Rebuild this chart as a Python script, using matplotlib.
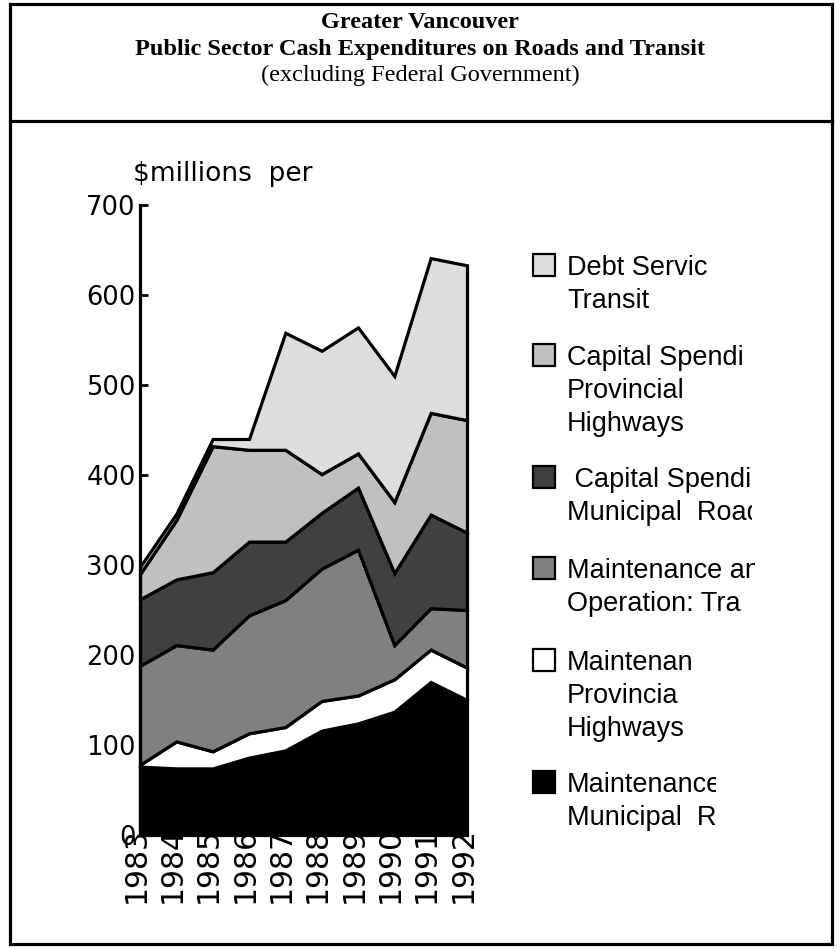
import matplotlib
matplotlib.use("Agg")
import matplotlib.pyplot as plt
from matplotlib.patches import Rectangle
from matplotlib.lines import Line2D
from matplotlib.transforms import Bbox, ScaledTranslation

# ---------------- data ----------------
years = [1983, 1984, 1985, 1986, 1987, 1988, 1989, 1990, 1991, 1992]
year_labels = ["1983", "1984", "1985", "1986", "1987", "1988", "1989", "1990", "1991", "1992"]

# stacked bottom -> top ($ millions per year)
maint_municipal_roads = [76, 74, 74, 86, 94, 116, 124, 137, 170, 150]
maint_provincial_hwys = [2, 30, 19, 27, 26, 33, 31, 36, 36, 36]
maint_oper_transit = [110, 107, 113, 131, 141, 147, 162, 38, 46, 64]
capital_municipal_roads = [74, 73, 86, 82, 65, 62, 69, 80, 104, 86]
capital_provincial_hwys = [28, 66, 140, 102, 102, 43, 38, 79, 113, 125]
debt_service_transit = [8, 7, 8, 12, 130, 137, 140, 140, 172, 172]

series = [maint_municipal_roads, maint_provincial_hwys, maint_oper_transit,
          capital_municipal_roads, capital_provincial_hwys, debt_service_transit]
colors = ["#000000", "#ffffff", "#808080", "#404040", "#c0c0c0", "#dddddd"]

# legend, top -> bottom (text as visible in the original, clipped)
legend_labels = ["Debt Servic\nTransit",
                 "Capital Spendi\nProvincial\nHighways",
                 " Capital Spendi\nMunicipal  Road",
                 "Maintenance an\nOperation: Tra",
                 "Maintenan\nProvincia\nHighways",
                 "Maintenance\nMunicipal  R"]
legend_colors = ["#dddddd", "#c0c0c0", "#404040", "#808080", "#ffffff", "#000000"]

yticks = [0, 100, 200, 300, 400, 500, 600, 700]
title_lines = ["Greater Vancouver",
               "Public Sector Cash Expenditures on Roads and Transit",
               "(excluding Federal Government)"]
ylabel = "$millions  per"

# ---------------- layout ----------------
W, H = 840, 949
fig = plt.figure(figsize=(W / 100, H / 100), dpi=100)

def fx(px):
    return px / W

def fy(py):
    return 1 - py / H

ax_left, ax_right, ax_top, ax_bottom = 140, 467, 205, 835
ax = fig.add_axes([fx(ax_left), fy(ax_bottom), fx(ax_right - ax_left), (ax_bottom - ax_top) / H])
ax.set_axisbelow(True)

polys = ax.stackplot(years, *series, colors=colors, edgecolor="black", linewidth=2.3)
for p in polys:
    p.set_joinstyle("miter")
    p.set_clip_on(False)
    p.set_zorder(1)

ax.set_xlim(years[0], years[-1])
ax.set_ylim(0, 700)
for s in ["top", "right", "bottom"]:
    ax.spines[s].set_visible(False)
ax.spines["left"].set_linewidth(2.3)
ax.spines["left"].set_zorder(3)
ax.set_facecolor("none")

ax.set_yticks(yticks)
ax.set_yticklabels([str(v) for v in yticks], fontsize=18.5, family="DejaVu Sans")
ax.tick_params(axis="y", direction="in", length=6, width=2, pad=3)

ax.set_xticks(years)
ax.set_xticklabels(year_labels, rotation=90, fontsize=21.5, family="DejaVu Sans")
ax.tick_params(axis="x", length=0, pad=-6)
offset = ScaledTranslation(-4 / 100, 0, fig.dpi_scale_trans)
for lab in ax.get_xticklabels():
    lab.set_transform(lab.get_transform() + offset)
    lab.set_zorder(0)

fig.text(fx(133), fy(174), ylabel, fontsize=19, family="DejaVu Sans", ha="left", va="center")

# ---------------- title & frame ----------------
title_y = [22, 49, 75]
for i, (t, y) in enumerate(zip(title_lines, title_y)):
    fig.text(0.5, fy(y), t, ha="center", va="center", family="Liberation Serif",
             fontsize=17.5, fontweight="bold" if i < 2 else "normal")

frame = Rectangle((fx(10), fy(944)), fx(822), (944 - 4) / H, transform=fig.transFigure,
                  fill=False, edgecolor="black", linewidth=2.3)
fig.patches.append(frame)
fig.lines.append(Line2D([fx(10), fx(832)], [fy(121), fy(121)], transform=fig.transFigure,
                        color="black", linewidth=2.3))

# ---------------- legend ----------------
entry_top = [265, 355, 477, 568, 660, 782]
clip_right = [707, 747, 752, 755, 695, 716]
line_gap = 33
for lab, col, y0, cr in zip(legend_labels, legend_colors, entry_top, clip_right):
    sq = Rectangle((fx(533), fy(y0 + 11)), fx(22), 22 / H, transform=fig.transFigure,
                   facecolor=col, edgecolor="black", linewidth=1.6)
    fig.patches.append(sq)
    lines = lab.split("\n")
    bb = Bbox([[fx(560) * W, fy(y0 + line_gap * len(lines)) * H], [cr, fy(y0 - 25) * H]])
    for j, ln in enumerate(lines):
        t = fig.text(fx(567), fy(y0 + j * line_gap), ln, fontsize=19.5,
                     family="Liberation Sans", ha="left", va="center_baseline")
        t.set_clip_box(bb)
        t.set_clip_on(True)

fig.savefig("out.png", dpi=100)
